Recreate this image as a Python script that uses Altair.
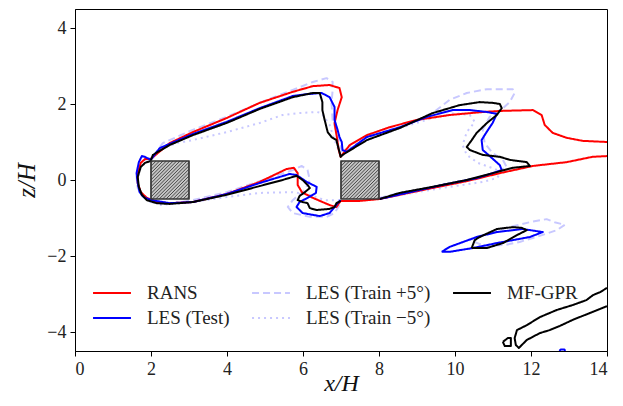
import altair as alt
import pandas as pd
import numpy as np

# ---------------- data ----------------
SERIES = ["RANS", "LES (Test)", "LES (Train +5°)", "LES (Train −5°)", "MF-GPR"]  # legend order
COLORS = ["#ff0000", "#0000ff", "#c8c8ff", "#c8c8ff", "#000000"]
DASHES = [[1, 0], [1, 0], [7, 4], [2, 4], [1, 0]]

rans_x = [14.0, 13.36, 12.94, 12.57, 12.36, 12.28, 12.05, 11.26, 10.73, 9.86, 8.99, 8.28, 7.68, 7.23, 6.99,
          6.94, 6.89, 6.83, 6.91, 7.02, 6.96, 6.7, 6.26, 5.73, 4.86, 3.99, 3.1, 2.49, 1.99,
          1.84, 1.73, 1.65, 1.65, 1.73, 1.89, 2.15, 2.49, 3.1, 3.99, 4.86, 5.57, 5.76, 5.86, 5.86, 5.97,
          6.26, 6.7, 6.88, 6.99, 7.49, 8.02, 8.54, 9.41, 10.31, 11.18, 12.05, 12.94, 13.62, 14.0]
rans_y = [1.0, 1.03, 1.11, 1.24, 1.45, 1.71, 1.84, 1.82, 1.79, 1.71, 1.58, 1.39, 1.18, 0.92, 0.61,
          0.79, 1.13, 1.5, 1.84, 2.18, 2.42, 2.5, 2.47, 2.32, 2.03, 1.63, 1.26, 0.97, 0.55,
          0.55, 0.45, 0.18, -0.08, -0.32, -0.47, -0.58, -0.61, -0.58, -0.37, -0.05, 0.29, 0.32, 0.18, -0.13, -0.32,
          -0.47, -0.66, -0.71, -0.55, -0.55, -0.5, -0.39, -0.21, -0.03, 0.18, 0.37, 0.47, 0.61, 0.63]

test_x = [8.02, 8.81, 9.67, 10.57, 10.99, 11.23, 11.18, 10.97, 10.73, 10.7, 10.83, 10.99, 11.1, 10.84, 10.39,
          9.94, 9.26, 8.55, 7.68, 7.15, 7.04, 7.02, 6.96, 6.91, 6.83, 6.83, 6.7, 6.49, 6.1, 5.73, 4.86, 3.99,
          3.1, 2.23, 1.99, 1.84, 1.76, 1.68, 1.62, 1.65, 1.7, 1.78, 1.84, 2.02, 2.49, 3.1, 3.99, 4.86, 5.65,
          5.83, 6.1, 6.36, 6.34, 6.12, 5.91, 5.83, 5.99, 6.44, 6.7, 6.81, 6.91, 6.99]
test_y = [-0.5, -0.32, -0.13, 0.05, 0.18, 0.26, 0.39, 0.58, 0.79, 1.05, 1.26, 1.5, 1.74, 1.79, 1.84,
          1.84, 1.66, 1.39, 1.13, 0.74, 0.79, 1.0, 1.13, 1.32, 1.58, 1.92, 2.18, 2.29, 2.26, 2.21, 1.89, 1.53,
          1.21, 0.84, 0.53, 0.61, 0.63, 0.47, 0.18, -0.08, -0.32, -0.42, -0.47, -0.53, -0.61, -0.58, -0.37, -0.08, 0.16,
          0.13, -0.05, -0.18, -0.34, -0.47, -0.58, -0.71, -0.87, -0.95, -0.87, -0.74, -0.61, -0.53]
test_island_x = [9.65, 9.86, 10.57, 11.1, 11.78, 12.31, 11.97, 11.1, 10.47, 9.86, 9.65]
test_island_y = [-1.89, -1.76, -1.5, -1.37, -1.29, -1.37, -1.5, -1.66, -1.79, -1.89, -1.89]
test_blob_x = [12.75, 12.78, 12.88, 12.9]
test_blob_y = [-4.5, -4.46, -4.46, -4.5]

gpr_x = [8.02, 8.54, 9.41, 10.31, 10.99, 11.52, 11.97, 11.89, 11.44, 11.18, 10.73, 10.39, 10.31, 10.44, 10.57,
         10.84, 11.1, 11.23, 11.18, 10.99, 10.65, 10.12, 9.41, 8.55, 7.68, 7.04, 6.99, 6.96, 6.91, 6.88, 6.75,
         6.65, 6.57, 6.51, 6.51, 6.44, 6.26, 5.73, 4.86, 3.99, 3.1, 2.49, 2.05, 1.99, 1.84, 1.73, 1.65, 1.68,
         1.76, 1.89, 2.15, 2.49, 3.1, 3.99, 4.86, 5.46, 5.83, 5.99, 6.12, 6.18, 6.05, 5.91, 5.86, 5.99, 6.12,
         6.18, 6.36, 6.7, 6.83, 6.88, 6.99]
gpr_y = [-0.5, -0.34, -0.18, 0.0, 0.18, 0.32, 0.37, 0.47, 0.53, 0.61, 0.66, 0.79, 0.87, 1.05, 1.24,
         1.5, 1.71, 1.89, 2.0, 2.03, 2.05, 1.97, 1.76, 1.37, 1.05, 0.66, 0.61, 0.74, 0.92, 1.05, 1.13,
         1.26, 1.58, 1.84, 2.05, 2.29, 2.29, 2.18, 1.87, 1.5, 1.18, 0.92, 0.66, 0.5, 0.45, 0.34, 0.08, -0.18,
         -0.39, -0.53, -0.61, -0.63, -0.58, -0.39, -0.16, 0.0, 0.11, 0.0, -0.13, -0.21, -0.32, -0.42, -0.53, -0.58, -0.61,
         -0.74, -0.79, -0.76, -0.71, -0.61, -0.55]
gpr_island_x = [10.44, 10.52, 10.65, 11.1, 11.52, 11.76, 11.89, 11.63, 11.26, 10.84, 10.44]
gpr_island_y = [-1.79, -1.58, -1.5, -1.29, -1.24, -1.26, -1.32, -1.45, -1.66, -1.79, -1.79]
gpr_corner_x = [14.0, 13.82, 13.63, 13.46, 13.1, 12.68, 12.23, 11.89, 11.63, 11.57, 11.6, 11.68,
                11.89, 12.23, 12.49, 12.76, 13.1, 13.55, 14.0]
gpr_corner_y = [-2.84, -2.95, -3.03, -3.16, -3.29, -3.42, -3.61, -3.82, -3.95, -4.16, -4.34, -4.42,
                -4.21, -4.03, -3.95, -3.84, -3.68, -3.5, -3.32]
gpr_loop_x = [11.26, 11.39, 11.47, 11.47, 11.31, 11.26]
gpr_loop_y = [-4.26, -4.16, -4.16, -4.37, -4.37, -4.26]

plus_x = [8.02, 8.54, 9.41, 10.31, 10.99, 11.36, 11.26, 10.99, 10.78, 10.73, 10.91, 11.26, 11.44, 11.57, 11.52,
          10.84, 10.31, 9.86, 9.41, 8.55, 7.68, 7.04, 6.96, 6.89, 6.78, 6.75, 6.78, 6.78, 6.62, 6.26, 5.73,
          4.86, 3.99, 3.1, 2.31, 2.02, 1.84, 1.7, 1.62, 1.65, 1.76, 1.97, 2.49, 3.1, 3.99, 4.86, 5.73, 5.97,
          6.12, 6.18, 6.05, 5.73, 5.6, 5.73, 6.18, 6.62, 6.83, 6.96]
plus_y = [-0.47, -0.34, -0.18, 0.0, 0.16, 0.34, 0.53, 0.71, 0.97, 1.32, 1.66, 1.89, 2.05, 2.29, 2.39,
          2.39, 2.29, 2.11, 1.76, 1.37, 1.05, 0.71, 0.97, 1.24, 1.58, 2.03, 2.37, 2.58, 2.68, 2.58, 2.37,
          2.03, 1.66, 1.32, 0.97, 0.58, 0.53, 0.37, 0.08, -0.21, -0.42, -0.58, -0.63, -0.53, -0.32, -0.03, 0.26, 0.37,
          0.26, 0.0, -0.26, -0.53, -0.71, -0.87, -0.97, -0.97, -0.87, -0.66]
plus_island_x = [10.39, 11.1, 11.97, 12.41, 12.62, 12.89, 12.68, 12.23, 11.7, 11.31, 10.78, 10.39]
plus_island_y = [-1.58, -1.32, -1.11, -1.03, -1.11, -1.18, -1.32, -1.47, -1.63, -1.71, -1.74, -1.58]

minus_x = [8.02, 8.99, 9.86, 10.73, 11.1, 11.23, 10.97, 10.6, 10.31, 10.2, 10.31, 10.52, 10.39, 9.99, 9.41,
           8.55, 7.68, 7.1, 7.02, 6.96, 6.83, 6.7, 6.49, 6.36, 5.91, 5.46, 4.86, 3.99, 3.1, 2.67, 2.23, 2.02,
           1.84, 1.7, 1.65, 1.7, 1.84, 2.23, 3.1, 3.99, 4.86, 5.73, 6.18, 6.57, 6.99]
minus_y = [-0.5, -0.32, -0.18, -0.05, 0.05, 0.21, 0.32, 0.45, 0.66, 0.92, 1.26, 1.53, 1.71, 1.76, 1.63,
           1.37, 1.13, 0.79, 0.61, 0.74, 1.05, 1.45, 1.76, 1.79, 1.76, 1.71, 1.5, 1.26, 1.05, 0.97, 0.79, 0.53,
           0.45, 0.26, 0.0, -0.26, -0.45, -0.66, -0.58, -0.45, -0.34, -0.32, -0.39, -0.53, -0.53]

# obstacles (square cylinders)
cyl_x0 = [2.0, 7.0]
cyl_x1 = [3.0, 8.0]
cyl_y0 = [-0.5, -0.5]
cyl_y1 = [0.5, 0.5]

# ---------------- build tables ----------------
segments = [  # drawing order: light series first, black on top
    ("LES (Train +5°)", "p0", plus_x, plus_y),
    ("LES (Train +5°)", "p1", plus_island_x, plus_island_y),
    ("LES (Train −5°)", "m0", minus_x, minus_y),
    ("RANS", "r0", rans_x, rans_y),
    ("LES (Test)", "t0", test_x, test_y),
    ("LES (Test)", "t1", test_island_x, test_island_y),
    ("LES (Test)", "t2", test_blob_x, test_blob_y),
    ("MF-GPR", "g0", gpr_x, gpr_y),
    ("MF-GPR", "g1", gpr_island_x, gpr_island_y),
    ("MF-GPR", "g2", gpr_corner_x, gpr_corner_y),
    ("MF-GPR", "g3", gpr_loop_x, gpr_loop_y),
]
rows = []
for name, seg, xs, ys in segments:
    for i, (a, b) in enumerate(zip(xs, ys)):
        rows.append({"series": name, "seg": seg, "i": i, "x": a, "y": b})
df = pd.DataFrame(rows)

cyl = pd.DataFrame({"x": cyl_x0, "x2": cyl_x1, "y": cyl_y0, "y2": cyl_y1})

# hatch decoration ("////") clipped to each square
hatch_rows = []
step = 0.09
for x0, x1, y0, y1 in zip(cyl_x0, cyl_x1, cyl_y0, cyl_y1):
    w = x1 - x0
    for c in np.arange(-w + step / 2, w, step):
        if c >= 0:
            hatch_rows.append({"x": x0 + c, "y": y0, "x2": x1, "y2": y1 - c})
        else:
            hatch_rows.append({"x": x0, "y": y0 - c, "x2": x1 + c, "y2": y1})
hatch = pd.DataFrame(hatch_rows)

# ---------------- chart ----------------
FONT = "Liberation Serif"
xscale = alt.Scale(domain=[0, 14], nice=False, zero=False)
yscale = alt.Scale(domain=[-4.5, 4.5], nice=False, zero=False)
xaxis = alt.Axis(title="x/H", values=list(range(0, 15, 2)), format="d")
yaxis = alt.Axis(title="z/H", values=[-4, -2, 0, 2, 4], format="d")

legend = alt.Legend(
    title=None, orient="none", legendX=24, legendY=271, columns=3,
    symbolType="M-1.58,0H1.58", symbolSize=576, symbolStrokeWidth=2,
    labelFont=FONT, labelFontSize=19, labelColor="#222222", labelOffset=22,
    columnPadding=18, rowPadding=2, padding=0,
)

lines = alt.Chart(df).mark_line(strokeWidth=2, clip=True, strokeJoin="round").encode(
    x=alt.X("x:Q", scale=xscale, axis=xaxis),
    y=alt.Y("y:Q", scale=yscale, axis=yaxis),
    color=alt.Color("series:N", scale=alt.Scale(domain=SERIES, range=COLORS), legend=legend),
    strokeDash=alt.StrokeDash("series:N", scale=alt.Scale(domain=SERIES, range=DASHES), legend=legend),
    detail="seg:N",
    order="i:Q",
)

rects = alt.Chart(cyl).mark_rect(fill="#c4c4c4", stroke="#333333", strokeWidth=1.2).encode(
    x=alt.X("x:Q", scale=xscale, axis=xaxis), x2="x2:Q",
    y=alt.Y("y:Q", scale=yscale, axis=yaxis), y2="y2:Q",
)

hatches = alt.Chart(hatch).mark_rule(color="#3a3a3a", strokeWidth=0.9).encode(
    x=alt.X("x:Q", scale=xscale, axis=xaxis), x2="x2:Q",
    y=alt.Y("y:Q", scale=yscale, axis=yaxis), y2="y2:Q",
)

outline = alt.Chart(cyl).mark_rect(fill="transparent", stroke="#333333", strokeWidth=1.2).encode(
    x=alt.X("x:Q", scale=xscale, axis=xaxis), x2="x2:Q",
    y=alt.Y("y:Q", scale=yscale, axis=yaxis), y2="y2:Q",
)

chart = alt.layer(lines, rects, hatches, outline).properties(
    width=532, height=342,
    autosize=alt.AutoSizeParams(type="none"),
    padding={"left": 67, "top": 1, "right": 8, "bottom": 47},
).configure_view(
    stroke="black", strokeWidth=1
).configure_axis(
    grid=False, domainColor="black", domainWidth=1, tickColor="black", tickSize=5,
    labelFont=FONT, labelFontSize=18, labelColor="#222222", labelPadding=4,
    titleFont=FONT, titleFontSize=25, titleFontStyle="italic", titleFontWeight="normal",
    titleColor="#111111",
).configure_axisX(titlePadding=-7, titleFontSize=24).configure_axisY(titlePadding=7)

chart.save("out.html", embed_options={"renderer": "svg", "actions": False})
